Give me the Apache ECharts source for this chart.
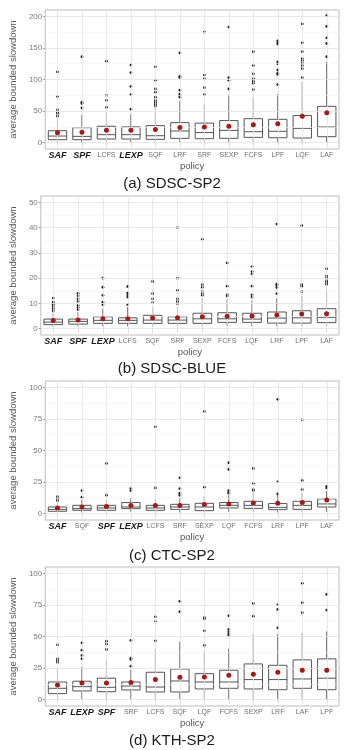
<!DOCTYPE html>
<html>
<head>
<meta charset="utf-8">
<script src="https://cdn.jsdelivr.net/npm/echarts@6/dist/echarts.min.js"></script>
<style>
  html, body { margin: 0; padding: 0; background: #fff; }
  #main { width: 344px; height: 750px; }
</style>
</head>
<body>
<div id="main"></div>
<script>
// box rows are [lower whisker, q1, median, q3, upper whisker]

// (a) SDSC-SP2
var catsA = ['SAF', 'SPF', 'LCFS', 'LEXP', 'SQF', 'LRF', 'SRF', 'SEXP', 'FCFS', 'LPF', 'LQF', 'LAF'];
var boxA = [
    [1, 4.7, 10.5, 19, 38], [1, 4.7, 10, 23.7, 44], [1, 5.8, 12.7, 26, 48], [1, 5.8, 12.7, 25, 45],
    [1, 5.3, 11, 27, 55], [1, 6.9, 18.5, 31.7, 66], [1, 6.3, 16, 31, 61], [1, 6.9, 19.5, 35, 76],
    [1, 8.4, 17.4, 38, 71], [1, 7.9, 18, 37, 77], [1, 7.4, 22.7, 43, 96], [1, 9.5, 24.8, 57.5, 128]
];
var meanA = [15.8, 16.4, 19.5, 19.5, 21, 24, 25, 26, 28.5, 30, 41.7, 47.5];
var outA = [
    [42, 46, 48, 52, 73, 112], [55, 62, 64, 136], [56, 67, 75, 129], [53, 76, 89, 111, 123],
    [58, 61, 64, 67, 72, 80, 85, 99, 120], [72, 75, 77, 83, 103, 105, 142], [76, 87, 101, 107, 175],
    [85, 99, 103, 183], [84, 94, 97, 100, 101, 109, 122, 144], [92, 108, 110, 115, 125, 128, 156, 158, 161],
    [103, 117, 122, 126, 130, 133, 144, 158, 188], [136, 157, 166, 184, 201]
];

// (b) SDSC-BLUE
var catsB = ['SAF', 'SPF', 'LEXP', 'LCFS', 'SQF', 'SRF', 'SEXP', 'FCFS', 'LQF', 'LRF', 'LPF', 'LAF'];
var boxB = [
    [0.8, 1.6, 2.6, 3.8, 6.5], [0.8, 1.8, 2.9, 3.8, 6.6], [0.9, 2.1, 3.3, 4.7, 7.9], [0.9, 2.1, 3.3, 4.3, 8.6],
    [0.9, 2.1, 3.4, 5.3, 8.5], [0.9, 2.1, 3.4, 4.7, 8.6], [0.9, 2.1, 3.9, 6.1, 12], [1, 2.5, 3.9, 6.3, 11.6],
    [1, 2.5, 3.8, 6.1, 11.2], [1, 2.2, 4.2, 6.6, 12], [1, 2.2, 4.3, 7.1, 13.2], [1, 2.4, 4.5, 7.9, 15.5]
];
var meanB = [3.2, 3.4, 3.9, 3.9, 4.2, 4.3, 4.7, 4.9, 5.0, 5.4, 5.8, 5.9];
var outB = [
    [7.1, 8.0, 9.0, 9.7, 10.5, 12.1], [7.5, 8.4, 9.2, 10.8, 11.8, 13.0, 14.0], [9.5, 10.5, 13.2, 16.4, 20.0],
    [9.6, 12.5, 13.4, 14.2, 16.7], [10.3, 11.8, 13.9, 18.7], [9.9, 10.8, 11.8, 15.1, 20.0, 40.0],
    [13.2, 13.8, 14.7, 16.4, 17.4, 35.3], [12.9, 13.4, 16.8, 26.0], [12.5, 13.4, 16.8, 21.7, 22.6, 24.7],
    [13.9, 16.3, 17.1, 17.6, 41.4], [14.7, 16.8, 17.4, 40.8], [17.6, 18.4, 18.9, 20.0, 20.8, 23.7]
];

// (c) CTC-SP2
var catsC = ['SAF', 'SQF', 'SPF', 'LEXP', 'LCFS', 'SRF', 'SEXP', 'LQF', 'FCFS', 'LRF', 'LPF', 'LAF'];
var boxC = [
    [1, 1.9, 3.4, 5.3, 8.5], [1, 2.7, 4, 6.6, 11.1], [1, 2.7, 4.5, 6.6, 11], [1.5, 4, 5.3, 8.8, 12.5],
    [1, 2.7, 4.5, 6.6, 11.7], [1, 3.4, 5.3, 7.4, 12.5], [1, 2.4, 5.3, 8.2, 13.8], [1.5, 4.5, 6.6, 8.8, 14.6],
    [1.5, 4.2, 6.6, 9.8, 16.4], [1, 3.2, 5, 8, 15.1], [1, 3.4, 6.6, 9.8, 16.4], [1.5, 5.3, 7.7, 11.7, 17.8]
];
var meanC = [4.5, 5.3, 5.6, 6.4, 6.4, 6.4, 7.2, 7.7, 8.5, 8.2, 8.8, 10.9];
var outC = [
    [10.3, 11.9, 13.5], [13.0, 18.3], [14.6, 39.8], [18.3, 19.9], [20.4, 68.7], [14.6, 16.2, 19.9, 28.4],
    [21.0, 80.9], [16.2, 17.2, 18.3, 35.0, 40.3], [18.3, 19.1, 24.1, 35.8], [15.6, 25.2, 90.5],
    [19.1, 26.3, 74.3], [20.4, 21.5]
];

// (d) KTH-SP2
var catsD = ['SAF', 'LEXP', 'SPF', 'SRF', 'LCFS', 'SQF', 'LQF', 'FCFS', 'SEXP', 'LRF', 'LAF', 'LPF'];
var boxD = [
    [0.5, 4.8, 9, 14, 25], [0.5, 6.9, 10.3, 14.6, 26], [0.5, 6.3, 9.8, 17, 31], [0.5, 7.7, 10.8, 14, 23.8],
    [0.5, 6.1, 10, 21.7, 40.2], [0.5, 6.1, 14.8, 24.3, 46], [0.5, 8.5, 14, 20.6, 38.4], [0.5, 9, 14, 23.3, 40.5],
    [0.5, 8.5, 15.9, 28.3, 52], [0.5, 7.9, 15.9, 27.2, 52], [0.5, 9, 16.4, 31.5, 53], [0.5, 7.9, 17, 32.3, 54]
];
var meanD = [11.6, 13.2, 13.2, 13.5, 15.9, 17.7, 18.0, 19.3, 20.1, 21.7, 23.3, 23.3];
var outD = [
    [29.6, 31.0, 32.3, 43.4], [32.3, 35.0, 39.2, 45.0], [39.7, 44.0, 46.3], [26.5, 31.7, 32.8, 47.0],
    [46.6, 62.2, 65.6], [69.6, 77.8], [42.9, 54.5, 64.0, 65.0], [50.8, 52.1, 53.7, 55.6, 66.4],
    [66.1, 76.2], [56.9, 71.4, 75.1], [68.8, 76.7, 92.1], [70.9, 83.3]
];

var boldCats = ['SAF', 'SPF', 'LEXP'];
var FONT = '"Liberation Sans", Arial, sans-serif';

var panels = [
    { cats: catsA, box: boxA, mean: meanA, out: outA, title: '(a) SDSC-SP2', top: 10, left: 26, nameGap: 16, min: -10, max: 210,
      major: [0, 50, 100, 150, 200], minor: [25, 75, 125, 175], titleTop: 176 },
    { cats: catsB, box: boxB, mean: meanB, out: outB, title: '(b) SDSC-BLUE', top: 196, left: 21, nameGap: 11, min: -2.5, max: 52.5,
      major: [0, 10, 20, 30, 40, 50], minor: [5, 15, 25, 35, 45], titleTop: 361 },
    { cats: catsC, box: boxC, mean: meanC, out: outC, title: '(c) CTC-SP2', top: 381, left: 24, nameGap: 14, min: -5, max: 105,
      major: [0, 25, 50, 75, 100], minor: [12.5, 37.5, 62.5, 87.5], titleTop: 548 },
    { cats: catsD, box: boxD, mean: meanD, out: outD, title: '(d) KTH-SP2', top: 567, left: 24, nameGap: 14, min: -5, max: 105,
      major: [0, 25, 50, 75, 100], minor: [12.5, 37.5, 62.5, 87.5], titleTop: 733 }
];

function renderBox(params, api) {
    var x = api.value(0);
    var lo = api.coord([x, api.value(1)]);
    var q1 = api.coord([x, api.value(2)]);
    var md = api.coord([x, api.value(3)]);
    var q3 = api.coord([x, api.value(4)]);
    var hi = api.coord([x, api.value(5)]);
    var w = api.size([1, 0])[0] * 0.75;
    var st = { stroke: '#555', lineWidth: 1, fill: null };
    return {
        type: 'group',
        children: [
            { type: 'line', shape: { x1: lo[0], y1: lo[1], x2: q1[0], y2: q1[1] }, style: st },
            { type: 'line', shape: { x1: q3[0], y1: q3[1], x2: hi[0], y2: hi[1] }, style: st },
            { type: 'rect', shape: { x: q3[0] - w / 2, y: q3[1], width: w, height: q1[1] - q3[1] },
              style: { stroke: '#555', lineWidth: 1, fill: '#fff' } },
            { type: 'line', shape: { x1: md[0] - w / 2, y1: md[1], x2: md[0] + w / 2, y2: md[1] }, style: st }
        ]
    };
}

var option = { animation: false, title: [], grid: [], xAxis: [], yAxis: [], series: [] };

panels.forEach(function (p, i) {
    option.title.push({
        text: p.title, left: 'center', top: p.titleTop, padding: 0,
        textStyle: { fontFamily: FONT, fontSize: 15, fontWeight: 'normal', color: '#1a1a1a' }
    });
    option.grid.push({
        left: p.left, right: 5, top: p.top, height: 139, show: true,
        borderColor: '#bcbcbc', borderWidth: 1, backgroundColor: '#fff'
    });
    option.xAxis.push({
        type: 'category', gridIndex: i, data: p.cats,
        axisLine: { show: false },
        axisTick: { show: true, alignWithLabel: true, length: 2, lineStyle: { color: '#9a9a9a' } },
        splitLine: { show: false },
        axisLabel: {
            interval: 0, margin: 1,
            formatter: function (v) { return boldCats.indexOf(v) >= 0 ? '{b|' + v + '}' : '{n|' + v + '}'; },
            rich: {
                b: { fontFamily: FONT, fontSize: 9, fontWeight: 'bold', fontStyle: 'italic', color: '#1a1a1a', lineHeight: 11 },
                n: { fontFamily: FONT, fontSize: 7, color: '#6e6e6e', lineHeight: 11 }
            }
        },
        name: 'policy', nameLocation: 'middle', nameGap: 8,
        nameTextStyle: { fontFamily: FONT, fontSize: 9.5, color: '#555' }
    });
    option.yAxis.push({
        type: 'value', gridIndex: i, min: p.min, max: p.max,
        axisLine: { show: false },
        axisTick: { show: true, length: 2, customValues: p.major, lineStyle: { color: '#9a9a9a' } },
        axisLabel: { customValues: p.major, margin: 3, fontFamily: FONT, fontSize: 8, color: '#7a7a7a' },
        splitLine: { show: false },
        name: 'average bounded slowdown', nameLocation: 'middle', nameGap: p.nameGap,
        nameTextStyle: { fontFamily: FONT, fontSize: 9.5, color: '#555' }
    });

    var gridLines = [];
    p.minor.forEach(function (v) { gridLines.push({ yAxis: v, lineStyle: { color: '#f3f3f3', width: 0.6 } }); });
    p.major.forEach(function (v) { gridLines.push({ yAxis: v, lineStyle: { color: '#e3e3e3', width: 0.8 } }); });
    p.cats.forEach(function (c, k) { gridLines.push({ xAxis: k, lineStyle: { color: '#e3e3e3', width: 0.8 } }); });

    option.series.push({
        type: 'line', xAxisIndex: i, yAxisIndex: i, data: [], z: 1, silent: true,
        markLine: { silent: true, symbol: ['none', 'none'], label: { show: false }, animation: false,
                    lineStyle: { type: 'solid' }, data: gridLines }
    });
    option.series.push({
        type: 'custom', xAxisIndex: i, yAxisIndex: i, z: 3, silent: true,
        renderItem: renderBox,
        encode: { x: 0, y: [1, 2, 3, 4, 5] },
        data: p.box.map(function (b, k) { return [k].concat(b); })
    });
    var pts = [];
    p.out.forEach(function (vals, k) { vals.forEach(function (v) { pts.push([k, v]); }); });
    option.series.push({
        type: 'scatter', xAxisIndex: i, yAxisIndex: i, z: 4, silent: true,
        symbol: 'circle', symbolSize: 2.8,
        itemStyle: { color: '#262626', opacity: 1, borderWidth: 0 }, data: pts
    });
    option.series.push({
        type: 'scatter', xAxisIndex: i, yAxisIndex: i, z: 5, silent: true,
        symbol: 'circle', symbolSize: 5,
        itemStyle: { color: '#a21c1c', opacity: 1, borderWidth: 0 },
        data: p.mean.map(function (m, k) { return [k, m]; })
    });
});

var chart = echarts.init(document.getElementById('main'));
chart.setOption(option);
</script>
</body>
</html>
